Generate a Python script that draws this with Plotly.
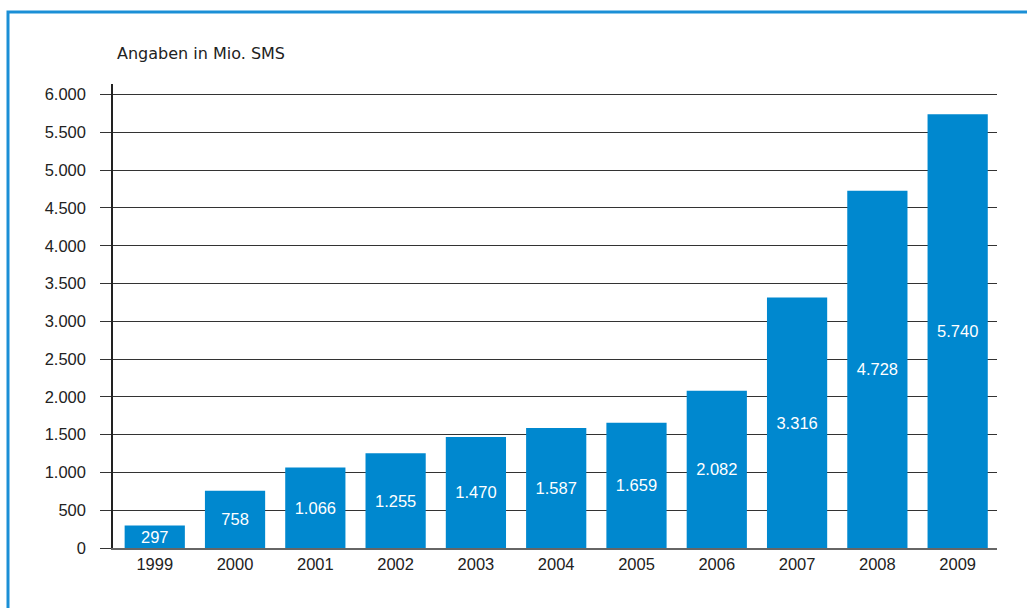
import plotly.graph_objects as go

# Jahre und SMS-Volumen (Mio.)
jahre = ["1999", "2000", "2001", "2002", "2003", "2004", "2005", "2006", "2007", "2008", "2009"]
sms_mio = [297, 758, 1066, 1255, 1470, 1587, 1659, 2082, 3316, 4728, 5740]
y_ticks = [0, 500, 1000, 1500, 2000, 2500, 3000, 3500, 4000, 4500, 5000, 5500, 6000]

BLAU = "#0088CF"
TEXT = "#222222"
FONT = "Liberation Sans, Arial, sans-serif"

fig = go.Figure(
    go.Bar(
        x=jahre,
        y=sms_mio,
        marker=dict(color=BLAU, line=dict(width=0)),
        texttemplate="%{y:,d}",
        textposition="inside",
        insidetextanchor="middle",
        textfont=dict(color="white", size=16.5, family=FONT),
        cliponaxis=False,
    )
)

fig.update_layout(
    width=1027,
    height=608,
    margin=dict(l=113, r=30, t=84, b=60),
    paper_bgcolor="white",
    plot_bgcolor="white",
    separators=",.",
    bargap=0.25,
    showlegend=False,
    uniformtext=dict(minsize=16.5, mode="show"),
    font=dict(family=FONT, size=16, color=TEXT),
    xaxis=dict(
        range=[-0.52, 10.49],
        showgrid=False,
        showline=True,
        linecolor="#666666",
        linewidth=2,
        ticks="",
        tickfont=dict(size=16.5, color=TEXT),
        fixedrange=True,
    ),
    yaxis=dict(
        range=[0, 6140],
        tickvals=y_ticks,
        tickformat=",d",
        showgrid=True,
        gridcolor="#333333",
        gridwidth=1,
        zeroline=False,
        showline=True,
        linecolor="#222222",
        linewidth=1.5,
        ticks="outside",
        ticklen=11,
        tickcolor="#333333",
        tickwidth=1,
        ticklabelstandoff=11,
        tickfont=dict(size=16.5, color=TEXT),
        fixedrange=True,
    ),
    annotations=[
        dict(
            text="Angaben in Mio. SMS",
            xref="paper", yref="paper",
            x=(115 - 113) / 884, y=(548 - 54) / 464,
            xanchor="left", yanchor="middle",
            showarrow=False,
            font=dict(size=16, color=TEXT, family="DejaVu Sans, sans-serif"),
        )
    ],
    shapes=[
        # blauer Rahmen
        dict(
            type="rect", xref="paper", yref="paper",
            x0=(8 - 113) / 884, x1=(1040 - 113) / 884,
            y0=(548 - 620) / 464, y1=(548 - 12) / 464,
            line=dict(color="#1B8FD6", width=3),
            fillcolor="rgba(0,0,0,0)",
            layer="below",
        )
    ],
)

fig.write_html(
    "out.html",
    config={"displayModeBar": False},
    post_script="document.body.style.margin='0';",
)
